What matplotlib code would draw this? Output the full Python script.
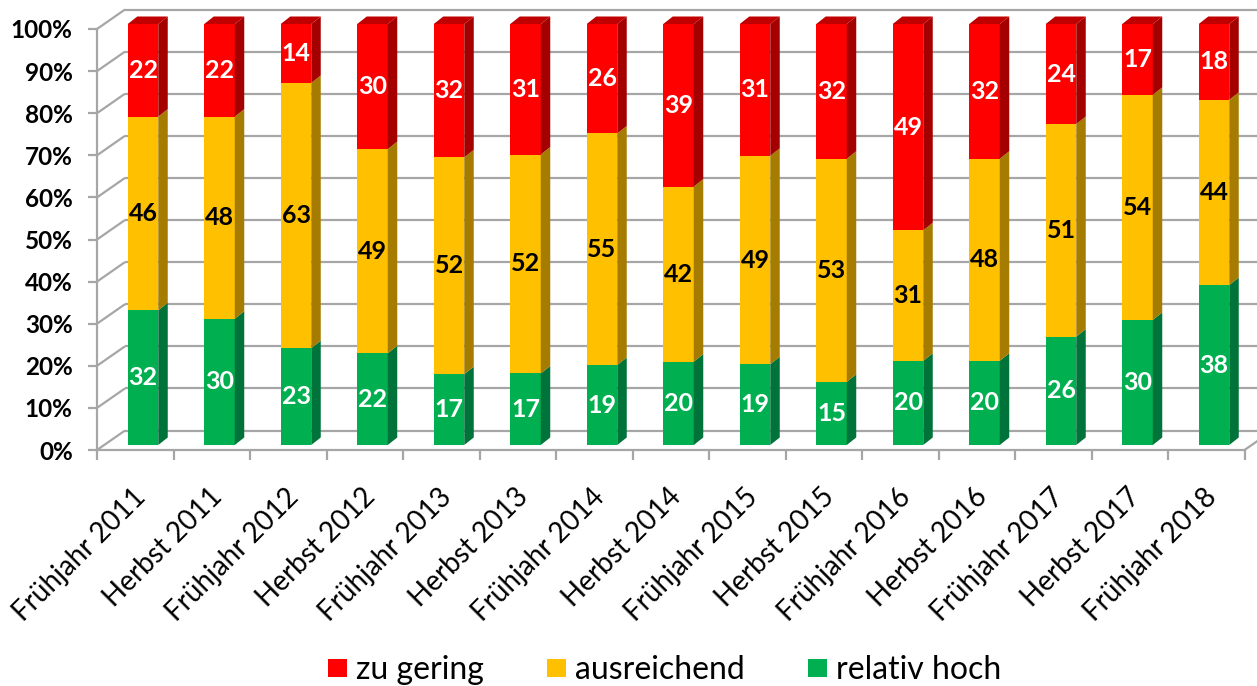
import matplotlib
matplotlib.use("Agg")
import matplotlib.pyplot as plt
from matplotlib.patches import Polygon, Patch
from matplotlib.transforms import ScaledTranslation
import numpy as np

# ---------------- data ----------------
categories = ["Frühjahr 2011", "Herbst 2011", "Frühjahr 2012", "Herbst 2012",
              "Frühjahr 2013", "Herbst 2013", "Frühjahr 2014", "Herbst 2014",
              "Frühjahr 2015", "Herbst 2015", "Frühjahr 2016", "Herbst 2016",
              "Frühjahr 2017", "Herbst 2017", "Frühjahr 2018"]
relativ_hoch = [32, 30, 23, 22, 17, 17, 19, 20, 19, 15, 20, 20, 26, 30, 38]
ausreichend = [46, 48, 63, 49, 52, 52, 55, 42, 49, 53, 31, 48, 51, 54, 44]
zu_gering = [22, 22, 14, 30, 32, 31, 26, 39, 31, 32, 49, 32, 24, 17, 18]
series_names = ["relativ hoch", "ausreichend", "zu gering"]
y_ticks = [0, 10, 20, 30, 40, 50, 60, 70, 80, 90, 100]
y_tick_labels = [f"{t}%" for t in y_ticks]

# ---------------- style ----------------
FONT = ["Lato", "DejaVu Sans"]
plt.rcParams["font.family"] = FONT
front_cols = ["#00B050", "#FFC000", "#FF0000"]
side_cols = ["#00733A", "#A67C00", "#A50000"]
top_cols = ["#008A3E", "#C89600", "#C00000"]
label_cols = ["white", "black", "white"]
GRID = "#A6A6A6"

W, H = 1257, 686
fig = plt.figure(figsize=(W / 100, H / 100), dpi=100)

PX_X = 76.5      # pixels per category
PX_Y = 4.21      # pixels per percent
x0_px = 135.25   # front-plane centre of first category
left_px, right_px, bottom_px, top_px = 97, 1257, 450, 5
ax = fig.add_axes([left_px / W, 1 - bottom_px / H,
                   (right_px - left_px) / W, (bottom_px - top_px) / H])
ax.set_xlim((left_px - x0_px) / PX_X, (right_px - x0_px) / PX_X)
ax.set_ylim(0, (bottom_px - top_px) / PX_Y)
xl, xr = ax.get_xlim()

# 3D depth offsets (in data units)
WX, WY = 28 / PX_X, 19.5 / PX_Y          # wall depth
BX, BY = 7.75 / PX_X, 5.0 / PX_Y         # bar front offset from front plane
BW = 30.5 / PX_X                          # bar width
DX, DY = 9.5 / PX_X, 7.5 / PX_Y          # bar depth

n = len(categories)
lw = 1.6
# back wall gridlines + side-wall diagonals
for t in y_ticks:
    ax.plot([xl, xl + WX], [t, t + WY], color=GRID, lw=lw, zorder=1, clip_on=False,
            solid_capstyle="butt")
    ax.plot([xl + WX, xr], [t + WY, t + WY], color=GRID, lw=lw, zorder=1, clip_on=False,
            solid_capstyle="butt")
# right floor edge
ax.plot([n - 0.5, n - 0.5 + WX], [0, WY], color=GRID, lw=lw, zorder=1, clip_on=False)

# spines
for s in ["top", "right"]:
    ax.spines[s].set_visible(False)
ax.spines["left"].set_bounds(0, 100)
ax.spines["bottom"].set_bounds(-0.5, n - 0.5)
for s in ["left", "bottom"]:
    ax.spines[s].set_color(GRID)
    ax.spines[s].set_linewidth(lw)

# ticks
ax.set_yticks(y_ticks)
ax.set_yticklabels(y_tick_labels, fontsize=17.5, fontweight="bold")
ax.tick_params(axis="y", length=6.5, width=lw, color=GRID, pad=11)
x = np.arange(n)
ax.set_xticks(x)
ax.set_xticklabels(categories, rotation=45, ha="right", va="center",
                   rotation_mode="anchor", fontsize=20)
ax.tick_params(axis="x", which="major", length=0, pad=31)
ax.set_xticks(np.arange(n + 1) - 0.5, minor=True)
ax.tick_params(axis="x", which="minor", length=7.2, width=lw, color=GRID)
shift = ScaledTranslation(6 / 100, 0, fig.dpi_scale_trans)
for lab in ax.get_xticklabels():
    lab.set_transform(lab.get_transform() + shift)

# ---------------- bars ----------------
raw = np.array([relativ_hoch, ausreichend, zu_gering], dtype=float)
pct = raw / raw.sum(axis=0) * 100
bottoms = np.vstack([np.zeros(n), np.cumsum(pct, axis=0)[:-1]])
xc = x + BX
for k in range(3):
    cont = ax.bar(xc, pct[k], bottom=bottoms[k] + BY, width=BW, color=front_cols[k],
                  edgecolor="none", zorder=3)
    ax.bar_label(cont, labels=[str(int(v)) for v in raw[k]], label_type="center",
                 color=label_cols[k], fontsize=18, fontweight="bold", zorder=6)
    for i in range(n):
        b0 = bottoms[k][i] + BY
        b1 = b0 + pct[k][i]
        xr_ = xc[i] + BW / 2
        side = Polygon([(xr_, b0), (xr_ + DX, b0 + DY), (xr_ + DX, b1 + DY), (xr_, b1)],
                       closed=True, facecolor=side_cols[k], edgecolor="none", zorder=3)
        ax.add_patch(side)
        if k == 2:
            xl_ = xc[i] - BW / 2
            top = Polygon([(xl_, b1), (xr_, b1), (xr_ + DX, b1 + DY), (xl_ + DX, b1 + DY)],
                          closed=True, facecolor=top_cols[k], edgecolor="none", zorder=3)
            ax.add_patch(top)

# ---------------- legend ----------------
order = [2, 1, 0]
handles = [Patch(facecolor=front_cols[k], edgecolor="none", label=series_names[k]) for k in order]
fig.legend(handles=handles, loc="center", bbox_to_anchor=(0.5287, 0.0233), ncol=3,
           frameon=False, fontsize=23, handlelength=0.6, handleheight=0.5,
           handletextpad=0.28, columnspacing=1.97, borderaxespad=0, borderpad=0)

fig.savefig("out.png", dpi=100)
